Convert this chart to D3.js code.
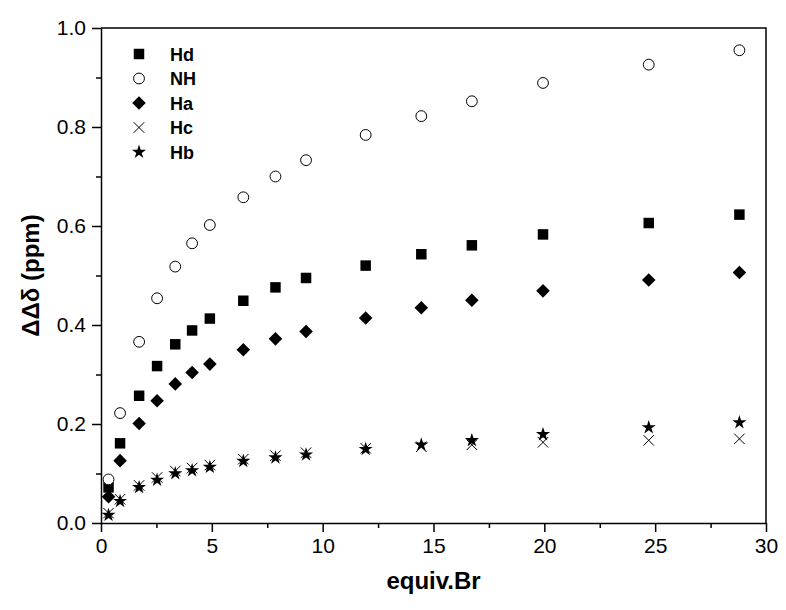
<!DOCTYPE html>
<html>
<head>
<meta charset="utf-8">
<script src="https://cdn.jsdelivr.net/npm/d3@7"></script>
<style>
  body { margin: 0; background: #fff; }
  svg { font-family: "Liberation Sans", Arial, sans-serif; }
  .tick text { font-size: 21px; fill: #000; }
  .axis path, .axis line { stroke: #000; stroke-width: 1.5; }
</style>
</head>
<body>
<svg width="786" height="610"></svg>
<script>
// equivalents of Br added (shared by every series)
const equiv = [0.34, 0.86, 1.72, 2.53, 3.35, 4.11, 4.91, 6.42, 7.87, 9.25, 11.94, 14.45, 16.73, 19.94, 24.71, 28.80];

const Hd = [0.072, 0.161, 0.257, 0.317, 0.361, 0.389, 0.413, 0.449, 0.476, 0.495, 0.520, 0.543, 0.561, 0.583, 0.606, 0.623];
const NH = [0.088, 0.222, 0.366, 0.454, 0.518, 0.565, 0.602, 0.658, 0.700, 0.733, 0.784, 0.822, 0.852, 0.889, 0.926, 0.955];
const Ha = [0.053, 0.126, 0.201, 0.247, 0.281, 0.304, 0.321, 0.350, 0.372, 0.387, 0.414, 0.435, 0.450, 0.469, 0.491, 0.506];
const Hc = [0.020, 0.048, 0.076, 0.092, 0.105, 0.111, 0.117, 0.129, 0.136, 0.142, 0.151, 0.154, 0.158, 0.163, 0.167, 0.170];
const Hb = [0.016, 0.044, 0.072, 0.087, 0.100, 0.106, 0.113, 0.125, 0.132, 0.138, 0.149, 0.158, 0.167, 0.179, 0.193, 0.203];

const seriesNames = ['Hd', 'NH', 'Ha', 'Hc', 'Hb'];
const seriesValues = [Hd, NH, Ha, Hc, Hb];

const xTicks = [0, 5, 10, 15, 20, 25, 30];
const yTicks = [0, 0.2, 0.4, 0.6, 0.8, 1.0];

const margin = {top: 28, right: 20, bottom: 87, left: 101};
const W = 786, H = 610;
const w = W - margin.left - margin.right;
const h = H - margin.top - margin.bottom;

const svg = d3.select('svg');
const g = svg.append('g').attr('transform', `translate(${margin.left},${margin.top})`);

const x = d3.scaleLinear().domain([0, 30]).range([0, w]);
const y = d3.scaleLinear().domain([0, 1]).range([h, 0]);

// marker shapes
const cross = {
  draw(ctx, size) {
    const r = Math.sqrt(size) / 2;
    ctx.moveTo(-r, -r); ctx.lineTo(r, r);
    ctx.moveTo(r, -r); ctx.lineTo(-r, r);
  }
};
const diamond = {
  draw(ctx, size) {
    const r = Math.sqrt(size * 2) / 2;
    ctx.moveTo(0, -r); ctx.lineTo(r, 0); ctx.lineTo(0, r); ctx.lineTo(-r, 0); ctx.closePath();
  }
};
const styles = {
  Hd: {type: d3.symbolSquare, size: 110, fill: '#000', stroke: 'none'},
  NH: {type: d3.symbolCircle, size: 92, fill: '#fff', stroke: '#000'},
  Ha: {type: diamond, size: 92, fill: '#000', stroke: 'none'},
  Hc: {type: cross, size: 110, fill: 'none', stroke: '#000'},
  Hb: {type: d3.symbolStar, size: 62, fill: '#000', stroke: 'none'}
};
const sym = name => d3.symbol().type(styles[name].type).size(styles[name].size)();

// frame
g.append('path')
  .attr('d', `M0,0H${w}V${h}`)
  .attr('fill', 'none')
  .attr('stroke', '#000')
  .attr('stroke-width', 1.5);

// axes
g.append('g')
  .attr('class', 'axis')
  .attr('transform', `translate(0,${h})`)
  .call(d3.axisBottom(x).tickValues(xTicks).tickSize(9).tickPadding(6).tickSizeOuter(0));
g.append('g')
  .attr('class', 'axis')
  .attr('transform', `translate(0,${h})`)
  .call(d3.axisBottom(x).tickValues(d3.range(2.5, 30, 5)).tickSize(5).tickFormat('').tickSizeOuter(0))
  .select('.domain').remove();

g.append('g')
  .attr('class', 'axis')
  .call(d3.axisLeft(y).tickValues(yTicks).tickSize(9).tickPadding(6).tickSizeOuter(0).tickFormat(d3.format('.1f')));
g.append('g')
  .attr('class', 'axis')
  .call(d3.axisLeft(y).tickValues(d3.range(0.1, 1, 0.2)).tickSize(5).tickFormat('').tickSizeOuter(0))
  .select('.domain').remove();

// points
seriesNames.forEach((name, i) => {
  const st = styles[name];
  g.append('g')
    .selectAll('path')
    .data(equiv.map((e, j) => [e, seriesValues[i][j]]))
    .join('path')
    .attr('transform', d => `translate(${x(d[0])},${y(d[1])})`)
    .attr('d', sym(name))
    .attr('fill', st.fill)
    .attr('stroke', st.stroke)
    .attr('stroke-width', 1);
});

// legend
const legend = g.append('g').attr('transform', 'translate(38,26)');
const rows = legend.selectAll('g')
  .data(seriesNames)
  .join('g')
  .attr('transform', (d, i) => `translate(0,${i * 24.5})`);
rows.append('path')
  .attr('d', d => sym(d))
  .attr('fill', d => styles[d].fill)
  .attr('stroke', d => styles[d].stroke)
  .attr('stroke-width', 1);
rows.append('text')
  .attr('x', 31)
  .attr('y', 6.5)
  .attr('font-size', 18)
  .attr('font-weight', 'bold')
  .text(d => d);

// axis titles
svg.append('text')
  .attr('x', margin.left + w / 2)
  .attr('y', 589)
  .attr('text-anchor', 'middle')
  .attr('font-size', 24)
  .attr('font-weight', 'bold')
  .text('equiv.Br');

svg.append('text')
  .attr('transform', `translate(39,${margin.top + h / 2}) rotate(-90)`)
  .attr('text-anchor', 'middle')
  .attr('font-size', 24)
  .attr('font-weight', 'bold')
  .text('ΔΔδ (ppm)');
</script>
</body>
</html>
